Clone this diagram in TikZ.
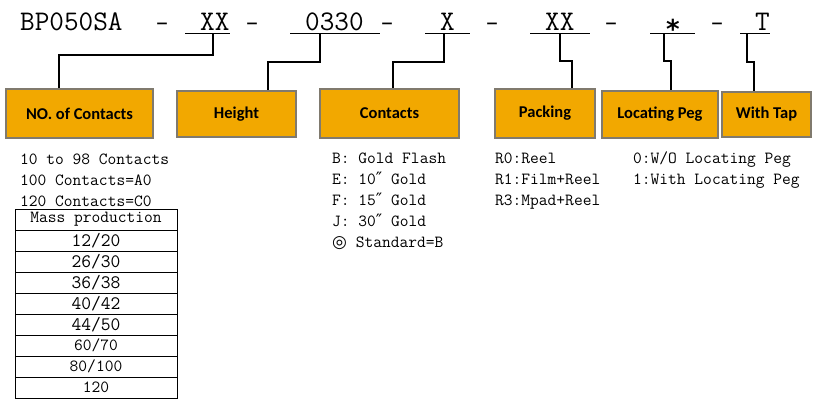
\documentclass[tikz,border=0pt]{standalone}
\usepackage{fontspec}
\newfontfamily\boxfont{Carlito}
\newfontfamily\symfont{DejaVu Sans}
\newcommand{\dprime}{{\symfont\char"2033}}
\newcommand{\bullseye}{{\symfont\char"25CE}}
\newcommand{\wide}{\fontsize{19}{21}\selectfont}
\definecolor{pegfill}{RGB}{242,168,0}
\definecolor{pegline}{RGB}{128,122,110}

\begin{document}
\begin{tikzpicture}[x=1pt,y=-1pt,
	code/.style={anchor=base west,inner sep=0pt,font=\fontsize{28.4}{30}\selectfont\ttfamily},
	sep/.style={anchor=base,inner sep=0pt,font=\symfont\fontsize{24}{28}\selectfont},
	note/.style={anchor=base west,inner sep=0pt,font=\fontsize{17}{21}\selectfont\ttfamily},
	field/.style={draw=pegline,line width=2pt,fill=pegfill,inner sep=0pt,font=\boxfont\bfseries\fontsize{16.5}{19}\selectfont},
	cell/.style={draw,line width=0.8pt,minimum width=162pt,minimum height=21pt,inner sep=0pt,font=\fontsize{17}{21}\selectfont\ttfamily},
	lead/.style={line width=1.8pt,black}]
	\useasboundingbox (0,0) rectangle (822,416);
	%part number
	\node[code] (base) at (20,30) {BP050SA};
	\node[code] (qty) at (200,30) {XX};
	\node[code] (hgt) at (305,30) {0330};
	\node[code] (plt) at (440,30) {X};
	\node[code] (pck) at (545,30) {XX};
	\node[sep,font=\symfont\bfseries\fontsize{26}{30}\selectfont] (peg) at (673,38) {*};
	\node[code] (tap) at (755,30) {T};
	\foreach \xx [count=\ii] in {162,252,387,492,611,717}{
		\node[sep] (dash\ii) at (\xx,30) {–};
	}
	%underlines
	\draw[line width=0.9pt] (185,33) -- (230,33);
	\draw[line width=0.9pt] (290,33) -- (380,33);
	\draw[line width=0.9pt] (425,33) -- (470,33);
	\draw[line width=0.9pt] (530,33) -- (590,33);
	\draw[line width=0.9pt] (650,33) -- (695,33);
	\draw[line width=0.9pt] (740,33) -- (770,33);
	\coordinate (u1) at (213,33);
	\coordinate (u2) at (320,33);
	\coordinate (u3) at (444,33);
	\coordinate (u4) at (560,33);
	\coordinate (u5) at (664,33);
	\coordinate (u6) at (747,33);
	%boxes
	\node[field,minimum width=147pt,minimum height=49pt] (box1) at (79.5,113.5) {NO. of Contacts};
	\node[field,minimum width=119pt,minimum height=46pt] (box2) at (236.5,114) {Height};
	\node[field,minimum width=139pt,minimum height=49pt] (box3) at (389.5,113) {Contacts};
	\node[field,minimum width=100pt,minimum height=49pt] (box4) at (545,113) {Packing};
	\node[field,minimum width=116pt,minimum height=47pt] (box5) at (660,114) {Locating Peg};
	\node[field,minimum width=89pt,minimum height=45pt] (box6) at (766.5,114.5) {With Tap};
	%leaders
	\draw[lead] (u1) -- ++(0,22) -| ([xshift=-20.5pt]box1.north);
	\draw[lead] (u2) -- ++(0,29) -| ([xshift=31.5pt]box2.north);
	\draw[lead] (u3) -- ++(0,29) -| ([xshift=3.5pt]box3.north);
	\draw[lead] (u4) -- ++(0,28) -| ([xshift=27pt]box4.north);
	\draw[lead] (u5) -- ++(0,28) -| ([xshift=11pt]box5.north);
	\draw[lead] (u6) -- ++(0,29) -| ([xshift=-12.5pt]box6.north);
	%number of contacts
	\foreach \txt [count=\ii] in {10 to 98 Contacts,100 Contacts=A0,120 Contacts=C0}{
		\node[note] (qty\ii) at (20,143+21*\ii) {\txt};
	}
	\foreach \txt [count=\ii from 0] in {Mass production,\wide 12/20,\wide 26/30,\wide 36/38,\wide 40/42,\wide 44/50,60/70,80/100,120}{
		\node[cell] (row\ii) at (96,219.5+21*\ii) {\txt};
	}
	%plating
	\foreach \txt [count=\ii] in {B: Gold Flash,E: 10\dprime{} Gold,F: 15\dprime{} Gold,J: 30\dprime{} Gold,\bullseye{} Standard=B}{
		\node[note] (plt\ii) at (332,142+21*\ii) {\txt};
	}
	%packing
	\foreach \txt [count=\ii] in {R0:Reel,R1:Film+Reel,R3:Mpad+Reel}{
		\node[note] (pck\ii) at (495,142+21*\ii) {\txt};
	}
	%locating peg
	\foreach \txt [count=\ii] in {0:W/O Locating Peg,1:With Locating Peg}{
		\node[note] (peg\ii) at (633,142+21*\ii) {\txt};
	}
\end{tikzpicture}
\end{document}
